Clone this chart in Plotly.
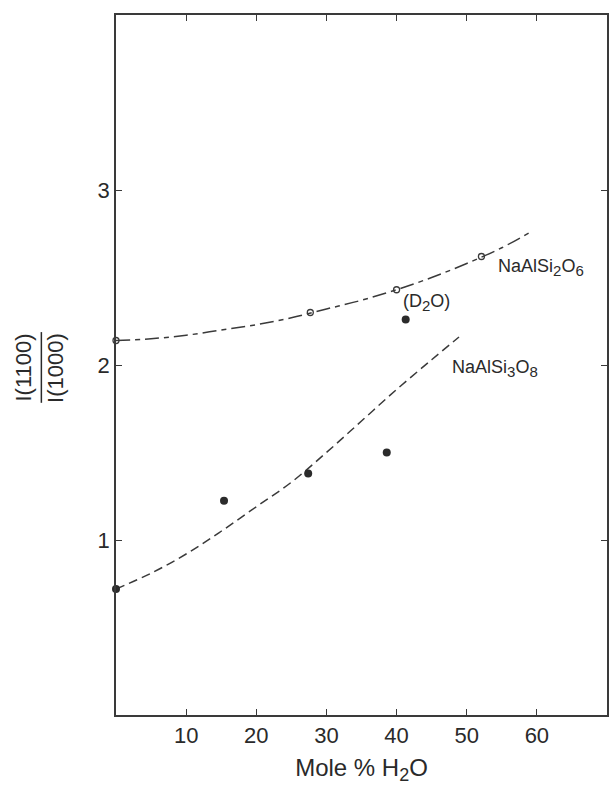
import plotly.graph_objects as go

# Measured intensity ratios I(1100)/I(1000)
jd_x = [0, 27.7, 40.0, 52.1]          # NaAlSi2O6 glass (open circles)
jd_y = [2.14, 2.30, 2.43, 2.62]
ab_x = [0, 15.4, 27.4, 38.6]          # NaAlSi3O8 glass (filled circles)
ab_y = [0.72, 1.225, 1.38, 1.50]
d2o_x = [41.3]                        # NaAlSi3O8 with D2O
d2o_y = [2.26]

# Hand-drawn trend curves
jd_curve_x = [0, 5, 10, 15, 20, 25, 30, 35, 40, 45, 50, 55, 59.1]
jd_curve_y = [2.14, 2.15, 2.17, 2.20, 2.23, 2.27, 2.32, 2.37, 2.43, 2.50, 2.58, 2.67, 2.76]
ab_curve_x = [0, 5, 10, 15, 20, 25, 30, 35, 40, 45, 48.9]
ab_curve_y = [0.72, 0.81, 0.92, 1.05, 1.19, 1.33, 1.50, 1.68, 1.86, 2.03, 2.16]

x_ticks = [10, 20, 30, 40, 50, 60]
y_ticks = [1, 2, 3]

ink = "#3a3a3a"
txt = "#2a2a2a"
font = "Liberation Sans, Arial, Helvetica, sans-serif"


def sub(s, px):
    return f"<sub><span style='font-size:{px}px'>{s}</span></sub>"


fig = go.Figure()
fig.add_trace(go.Scatter(x=jd_curve_x, y=jd_curve_y, mode="lines",
                         line=dict(color=ink, width=1.5, shape="spline",
                                   dash="14px,5px,5px,5px"),
                         hoverinfo="skip"))
fig.add_trace(go.Scatter(x=ab_curve_x, y=ab_curve_y, mode="lines",
                         line=dict(color=ink, width=1.5, shape="spline",
                                   dash="9px,5px"),
                         hoverinfo="skip"))
fig.add_trace(go.Scatter(x=jd_x, y=jd_y, mode="markers", cliponaxis=False,
                         marker=dict(symbol="circle-open", size=6, color=ink,
                                     line=dict(width=1.3, color=ink))))
fig.add_trace(go.Scatter(x=ab_x, y=ab_y, mode="markers", cliponaxis=False,
                         marker=dict(symbol="circle", size=8, color="#2b2b2b")))
fig.add_trace(go.Scatter(x=d2o_x, y=d2o_y, mode="markers", cliponaxis=False,
                         marker=dict(symbol="circle", size=8, color="#2b2b2b")))

axis_common = dict(showgrid=False, zeroline=False, showline=True, mirror="ticks",
                   linecolor=ink, linewidth=1.5, ticks="inside", ticklen=6,
                   tickwidth=1.2, tickcolor=ink,
                   tickfont=dict(family=font, size=22, color=txt))

fig.update_xaxes(range=[0, 70], tickvals=x_ticks,
                 title=dict(text="Mole % H" + sub("2", 18) + "O", standoff=12,
                            font=dict(family=font, size=24, color=txt)),
                 **axis_common)
fig.update_yaxes(range=[0, 4], tickvals=y_ticks, **axis_common)

label_font = dict(family=font, size=18, color=txt)
fig.add_annotation(x=54.2, y=2.56, text="NaAlSi" + sub("2", 15) + "O" + sub("6", 15),
                   showarrow=False, xanchor="left", yanchor="middle", font=label_font)
fig.add_annotation(x=47.6, y=1.98, text="NaAlSi" + sub("3", 15) + "O" + sub("8", 15),
                   showarrow=False, xanchor="left", yanchor="middle", font=label_font)
fig.add_annotation(x=40.6, y=2.36, text="(D" + sub("2", 15) + "O)",
                   showarrow=False, xanchor="left", yanchor="middle", font=label_font)

# Y-axis title written as a fraction
frac_font = dict(family=font, size=22, color=txt)
fig.add_annotation(xref="paper", yref="paper", x=-0.188, y=0.496, text="I(1100)",
                   textangle=-90, showarrow=False, xanchor="center", yanchor="middle",
                   font=frac_font)
fig.add_annotation(xref="paper", yref="paper", x=-0.122, y=0.496, text="I(1000)",
                   textangle=-90, showarrow=False, xanchor="center", yanchor="middle",
                   font=frac_font)
fig.add_shape(type="line", xref="paper", yref="paper", x0=-0.152, x1=-0.152,
              y0=0.446, y1=0.547, line=dict(color=txt, width=1.5))

fig.update_layout(width=609, height=786, showlegend=False,
                  margin=dict(l=116, r=0, t=15, b=71),
                  paper_bgcolor="white", plot_bgcolor="white")

fig.write_html("out.html")
